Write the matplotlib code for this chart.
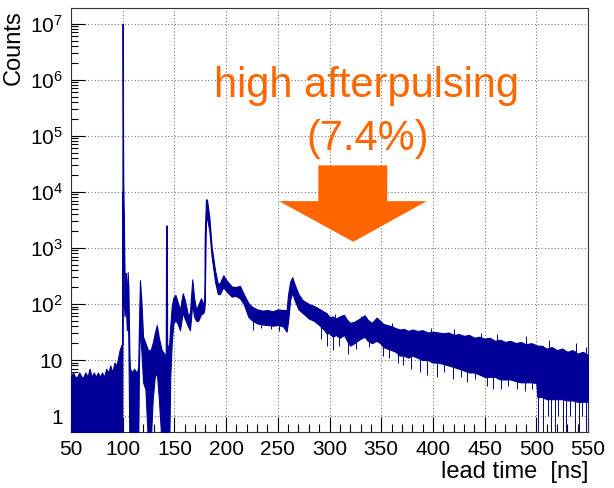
import matplotlib
matplotlib.use("Agg")
import matplotlib.pyplot as plt
from matplotlib.patches import Polygon
import numpy as np

plt.rcParams['font.family'] = ['Liberation Sans', 'DejaVu Sans']
plt.rcParams['mathtext.fontset'] = 'custom'
plt.rcParams['mathtext.rm'] = 'Liberation Sans'
plt.rcParams['mathtext.it'] = 'Liberation Sans:italic'

# histogram envelope: time [ns], upper and lower counts
t_ns = [50, 52, 54, 56, 58, 60, 62, 64, 66, 68, 70, 72, 74, 76, 78, 80, 82, 84, 86, 88,
        90, 92, 94, 96, 97, 99, 99.6, 99.7, 99.9, 100.2, 100.5, 101.2, 101.8, 103, 104,
        104.8, 105.5, 106.5, 107, 109, 111, 113, 115, 115.8, 116.7, 118, 119.7, 122,
        124.5, 127, 129, 131, 133, 135, 137.7, 141.6, 142, 142.6, 143, 145, 146, 147.4,
        149, 151, 153, 155.4, 158, 160, 163.4, 165, 167.3, 169, 171, 173, 175.7, 178,
        179, 179.3, 180.5, 181.5, 183.8, 186, 189.3, 192, 194, 197.3, 200, 205.4, 209,
        213.4, 217, 221.5, 225, 230, 235, 240, 245, 250, 255, 258.5, 260, 262, 264,
        266, 270, 274, 280, 285, 290, 295, 297, 300, 303, 306, 310, 314, 317, 320, 324,
        327, 330, 334, 337, 341, 345.6, 349, 352, 356, 360, 364, 368, 372, 376, 380,
        385, 390, 395, 400, 405, 410, 415, 420, 425, 430, 435, 440, 445, 450, 455, 460,
        465, 470, 475, 480, 485, 490, 495, 500, 501, 505, 510, 515, 520, 525, 530, 535,
        540, 545, 550]
hi = [5, 6, 5, 5, 6, 5, 5, 6, 5, 7, 5, 6, 5, 6, 5, 6, 5, 7, 6, 8,
      6, 9, 8, 12, 15, 19, 19, 4000, 1.0e7, 4.4e5, 1.6e4, 2300, 355, 355, 120,
      370, 200, 12, 7, 6, 7, 6, 7, 50, 265, 120, 26, 20,
      15, 15, 20, 30, 42, 25, 15, 12, 2500, 2500, 15, 20, 40, 89,
      130, 145, 110, 78, 155, 120, 60, 70, 275, 130, 80, 95, 126, 100,
      110, 1500, 7300, 7300, 3500, 1050, 400, 230, 235, 325, 270, 205, 200,
      210, 150, 104, 89, 80, 76, 78, 74, 80, 78, 78, 150, 250, 300,
      230, 150, 117, 100, 92, 82, 72, 69, 58, 60, 55, 60, 64, 52, 46, 48,
      52, 56, 63, 52, 46, 57, 50, 44, 42, 40, 37, 35, 36, 33, 35,
      33, 34, 31, 32, 31, 30, 31, 28, 29, 27, 28, 25, 26, 24, 25, 22,
      23, 21, 22, 20, 21, 19, 20, 18.5, 18, 18, 16, 17, 15, 16, 14, 15,
      13, 14, 12.3]
lo = [0.3] * 26 + [0.3, 10, 1e4, 1e4, 2000, 100, 60, 100, 34,
      100, 20, 0.3, 0.3, 0.3, 0.3, 0.3, 0.3, 10, 40, 15, 4, 3,
      0.3, 0.3, 2, 5, 6, 2, 0.3, 0.3, 0.3, 0.3, 0.3, 0.3, 5, 20,
      45, 51, 45, 34, 70, 55, 39, 34, 100, 60, 50, 50, 65, 69,
      80, 100, 3000, 3500, 2000, 700, 250, 150, 150, 200, 170, 135, 140,
      126, 100, 59, 51, 45, 43, 42, 41, 42, 40, 32, 50, 120, 160,
      120, 80, 69, 55, 50, 42, 34, 30, 30, 26, 28, 25, 28, 22, 18, 20,
      22, 24, 26, 22, 20, 22, 20, 17, 16, 15, 14, 12, 12, 11, 12,
      11, 10, 10, 9, 9, 8.5, 8, 7.5, 7, 6.5, 6, 6, 5.5, 5, 5, 5,
      4.5, 4.5, 4.5, 4.2, 4, 4, 4, 3.9, 2.2, 2.2, 2, 2, 2, 2, 1.9, 1.9,
      1.8, 1.8, 1.8]

# single-bin fluctuations reaching below / above the band
dn_x = [226, 234, 243, 251, 292, 298, 303, 309, 318, 326, 338, 352, 358, 366, 371,
        379, 388, 394, 404, 411, 419, 427, 433, 441, 452, 458, 466, 473, 481, 489,
        496, 502, 506, 511, 514, 518, 521, 526, 529, 533, 537, 541, 544, 548]
dn_y = [35, 38, 36, 33, 24, 18, 15, 18, 13, 16, 17, 12, 11, 9, 8,
        7, 6, 5.5, 5, 6, 4.5, 5, 4, 4.5, 3.5, 3, 3, 3.5, 3, 2.8,
        3, 0.4, 0.4, 1, 0.4, 0.4, 1, 0.4, 0.4, 1, 0.4, 0.4, 1, 0.4]
up_x = [305, 330, 360, 398, 420, 447, 462, 490, 512, 538, 548]
up_y = [66, 62, 46, 38, 36, 30, 29, 27, 23, 20, 17]

blue = '#000099'
orange = '#ff6600'

fig = plt.figure(figsize=(6.14, 4.88), dpi=100)
ax = fig.add_axes([71 / 614, 56 / 488, 517 / 614, 424 / 488])
ax.set_yscale('log')
ax.set_xlim(50, 550)
ax.set_ylim(0.52, 1.9e7)

ax.fill_between(t_ns, lo, hi, color=blue, lw=0.8, zorder=3)
ax.vlines(dn_x, dn_y, np.interp(dn_x, t_ns, hi), color=blue, lw=0.7, zorder=3)
ax.vlines(up_x, np.interp(up_x, t_ns, lo), up_y, color=blue, lw=0.7, zorder=3)

# arrow
arrow = Polygon([(289.2, 10**4.471), (355.9, 10**4.471), (355.9, 10**3.834),
                 (394.0, 10**3.834), (323.0, 10**3.108), (251.2, 10**3.834),
                 (289.2, 10**3.834)], closed=True, color=orange, lw=0, zorder=5)
ax.add_patch(arrow)
fig.text(366.7 / 614, 1 - 96.7 / 488, 'high afterpulsing', color=orange,
         fontsize=30, ha='center', va='baseline')
fig.text(368 / 614, 1 - 150 / 488, '(7.4%)', color=orange,
         fontsize=30, ha='center', va='baseline')

# axes styling
ax.set_xticks(np.arange(50, 551, 50))
ax.set_xticks(np.arange(50, 551, 10), minor=True)
yt = [1, 10, 1e2, 1e3, 1e4, 1e5, 1e6, 1e7]
ax.set_yticks(yt, ['1', '10'] + [r'$10^{%d}$' % k for k in range(2, 8)])
ax.yaxis.set_minor_locator(matplotlib.ticker.LogLocator(base=10, subs=np.arange(2, 10)))
ax.yaxis.set_minor_formatter(matplotlib.ticker.NullFormatter())
ax.tick_params(which='both', direction='in', top=False, right=False, labelsize=15, width=0.8)
ax.tick_params(axis='x', which='major', length=10.5, pad=6)
ax.tick_params(axis='x', which='minor', length=5.5)
ax.tick_params(axis='y', which='major', length=10, pad=6)
ax.tick_params(axis='y', which='minor', length=5)
ax.grid(True, which='major', color='#777777', linestyle=(0, (1, 2)), lw=0.8)
for s in ax.spines.values():
    s.set_color('#333333')
    s.set_linewidth(0.8)

fig.text(588 / 614, 1 - 478 / 488, 'lead time  [ns]', fontsize=17, ha='right', va='baseline')
fig.text(25 / 614, 1 - 10 / 488, 'Counts', fontsize=17, rotation=90, ha='right', va='top')

fig.savefig('out.png', dpi=100)
